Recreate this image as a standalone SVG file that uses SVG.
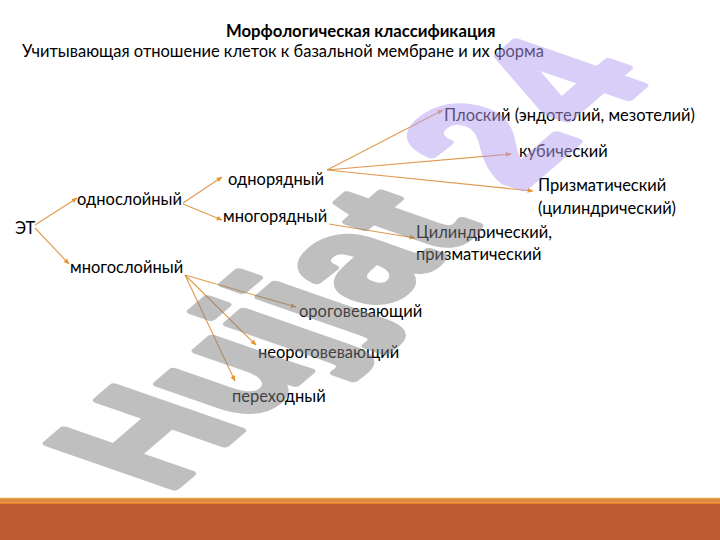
<svg xmlns="http://www.w3.org/2000/svg" width="720" height="540" viewBox="0 0 720 540">
<style>
.t{font-family:Lato,"Liberation Sans",sans-serif;font-size:16.5px;fill:#000}
.b{font-weight:bold;font-size:16.7px}
.c{stroke:#E0994F;stroke-width:1.1;fill:none;marker-end:url(#ah)}
.wm{font-family:"Liberation Sans",Arial,sans-serif;font-weight:bold;font-size:100px;stroke-width:5;stroke-linejoin:round}
</style>
<defs>
<marker id="ah" viewBox="0 0 10 10" refX="9" refY="5" markerWidth="6" markerHeight="6" markerUnits="userSpaceOnUse" orient="auto"><path d="M0,1 L10,5 L0,9 z" fill="#E8952F"/></marker>
</defs>
<rect width="720" height="540" fill="#ffffff"/>
<g id="footer">
<rect x="0" y="497" width="720" height="1.2" fill="#FCE9B8"/>
<rect x="0" y="498.2" width="720" height="4.6" fill="#DD8A3A"/>
<rect x="0" y="502.8" width="720" height="1.2" fill="#F07F20"/>
<rect x="0" y="504" width="720" height="36" fill="#BE5A30"/>
</g>
<g id="title">
<text class="t b" x="226" y="37">Морфологическая классификация</text>
<text class="t" x="22" y="57">Учитывающая отношение клеток к базальной мембране и их форма</text>
</g>
<g id="connectors">
<path class="c" d="M35,225 L77,198"/>
<path class="c" d="M35,228 L69,264"/>
<path class="c" d="M183,203 L222,177"/>
<path class="c" d="M183,204 L222,220"/>
<path class="c" d="M327,170 L443,110"/>
<path class="c" d="M327,170 L511,154"/>
<path class="c" d="M327,170 L533,191"/>
<path class="c" d="M329,224 L415,238"/>
<path class="c" d="M185,275 L296,307"/>
<path class="c" d="M185,275 L256,345"/>
<path class="c" d="M185,275 L235,381"/>
</g>
<g id="n-et"><text class="t" x="15" y="234">ЭТ</text></g>
<g id="n-odnosloiny"><text class="t" x="77" y="205">однослойный</text></g>
<g id="n-mnogosloiny"><text class="t" x="70" y="273">многослойный</text></g>
<g id="n-odnoryadny"><text class="t" x="228" y="185">однорядный</text></g>
<g id="n-mnogoryadny"><text class="t" x="223" y="222">многорядный</text></g>
<g id="n-ploskiy"><text class="t" x="444" y="121">Плоский (эндотелий, мезотелий)</text></g>
<g id="n-kubicheskiy"><text class="t" x="519" y="157">кубический</text></g>
<g id="n-prizmaticheskiy"><text class="t" x="538" y="191">Призматический</text><text class="t" x="538" y="214">(цилиндрический)</text></g>
<g id="n-cilindricheskiy"><text class="t" x="416" y="238">Цилиндрический,</text><text class="t" x="416" y="260">призматический</text></g>
<g id="n-orogovevayushchiy"><text class="t" x="299" y="317">ороговевающий</text></g>
<g id="n-neorogovevayushchiy"><text class="t" x="258" y="358">неороговевающий</text></g>
<g id="n-perehodny"><text class="t" x="232" y="402">переходный</text></g>
<g id="watermark" opacity="0.5">
<text class="wm" transform="translate(167,494) matrix(1.13,-0.97,1.84,0.64,0,0)"><tspan fill="#808080" stroke="#808080">Hujjat</tspan><tspan fill="#B39EF0" stroke="#B39EF0" dx="34">2</tspan><tspan fill="#B39EF0" stroke="#B39EF0" dx="8">4</tspan></text>
</g>
</svg>
